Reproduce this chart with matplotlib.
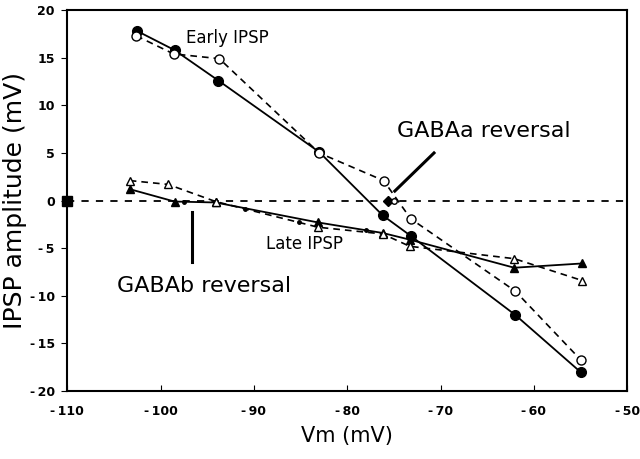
import matplotlib
matplotlib.use("Agg")
import matplotlib.pyplot as plt

plt.rcParams["font.family"] = ["DejaVu Sans"]
plt.rcParams["axes.unicode_minus"] = False

# early IPSP: filled = control, open = second run
early_vm = [-102.5, -98.5, -93.8, -83.0, -76.2, -73.2, -62.0, -55.0]
early_amp = [17.8, 15.8, 12.6, 5.1, -1.55, -3.7, -12.0, -18.0]
early_open_vm = [-102.6, -98.6, -93.7, -83.0, -76.1, -73.2, -62.0, -55.0]
early_open_amp = [17.3, 15.4, 14.9, 5.0, 2.1, -1.9, -9.5, -16.7]

# late IPSP
late_vm = [-103.3, -98.5, -94.1, -83.1, -76.2, -73.3, -62.1, -54.8]
late_amp = [1.2, -0.1, -0.2, -2.3, -3.4, -4.1, -7.05, -6.6]
late_open_vm = [-103.3, -99.2, -94.1, -83.1, -76.2, -73.3, -62.1, -54.8]
late_open_amp = [2.1, 1.7, -0.1, -2.8, -3.5, -4.8, -6.1, -8.4]

# small intermediate points along the late trace
late_dots_vm = [-97.5, -91.0, -85.2, -78.0]
late_dots_amp = [-0.1, -0.9, -2.2, -3.1]

gabaa_vm = -75.6
gabab_vm = -96.6

xticks = list(range(-110, -49, 10))
yticks = list(range(-20, 21, 5))


def tick_text(v):
    return f"-\u2009{abs(v)}" if v < 0 else str(v)


fig = plt.figure(figsize=(6.4, 4.59), dpi=100)
ax = fig.add_axes([0.105, 0.148, 0.875, 0.83])

ax.axhline(0, color="black", lw=1.3, ls=(0, (4, 4)), zorder=1)

ax.plot(early_vm, early_amp, "-", color="black", lw=1.3, marker="o",
        ms=7, mfc="black", zorder=3)
ax.plot(early_open_vm, early_open_amp, color="black", lw=1.2, ls=(0, (4, 3)),
        marker="o", ms=6.5, mfc="white", zorder=4)
ax.plot(late_vm, late_amp, "-", color="black", lw=1.3, marker="^",
        ms=5.5, mfc="black", zorder=3)
ax.plot(late_open_vm, late_open_amp, color="black", lw=1.2, ls=(0, (4, 3)),
        marker="^", ms=5.5, mfc="white", zorder=4)
ax.plot(late_dots_vm, late_dots_amp, "o", color="black", ms=2.5, zorder=3,
        ls="none")

# reversal markers
ax.plot([gabaa_vm], [0], "D", color="black", ms=5, zorder=5)
ax.plot([gabaa_vm + 0.6], [0], "o", color="black", mfc="white", ms=4, zorder=5)
ax.plot([-110], [0], "s", color="black", ms=7, clip_on=False, zorder=5)

ax.plot([-70.7, -74.9], [5.0, 1.0], color="black", lw=2.2)
ax.text(-65.4, 7.3, "GABAa reversal", fontsize=16, ha="center", va="center")
ax.plot([gabab_vm, gabab_vm], [-1.25, -6.5], color="black", lw=2.2)
ax.text(-95.3, -9.0, "GABAb reversal", fontsize=16, ha="center", va="center")

ax.text(-92.8, 17.1, "Early IPSP", fontsize=12, ha="center", va="center")
ax.text(-84.6, -4.6, "Late IPSP", fontsize=12, ha="center", va="center")

ax.set_xlim(-110, -50)
ax.set_ylim(-20, 20)
ax.set_xticks(xticks)
ax.set_xticklabels([tick_text(v) for v in xticks], fontweight="bold")
ax.set_yticks(yticks)
ax.set_yticklabels([tick_text(v) for v in yticks], fontweight="bold")
ax.tick_params(axis="x", direction="in", length=4, labelsize=9, pad=10)
ax.tick_params(axis="y", direction="out", length=4, labelsize=9, pad=5)
for s in ax.spines.values():
    s.set_linewidth(1.5)

ax.set_xlabel("Vm (mV)", fontsize=15, labelpad=6)
ax.set_ylabel("IPSP amplitude (mV)", fontsize=18, labelpad=2)

fig.savefig("out.png", dpi=100)
